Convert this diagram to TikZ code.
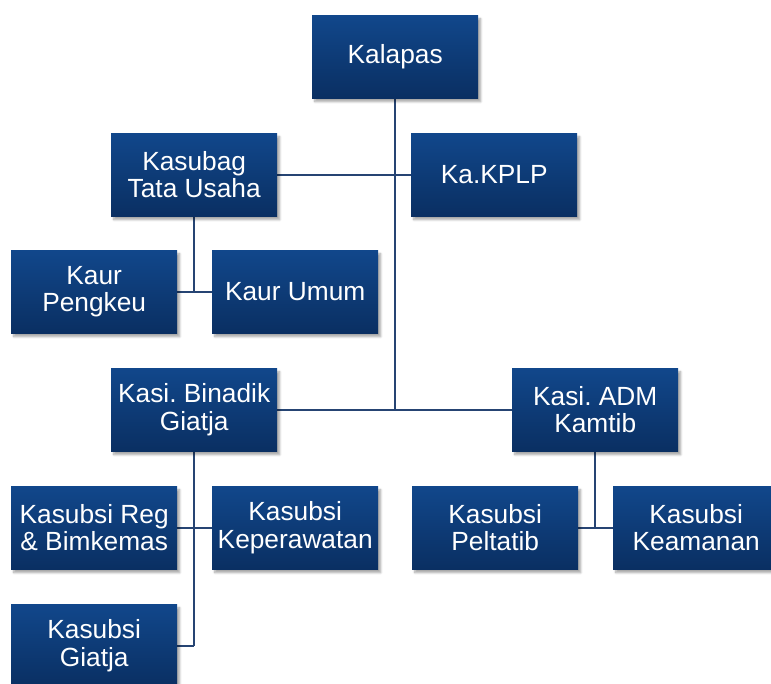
\documentclass[tikz,border=0pt]{standalone}
\usepackage{fontspec}
\setmainfont{Liberation Sans}
\usetikzlibrary{shadows.blur,backgrounds}
\definecolor{boxtop}{RGB}{17,71,139}
\definecolor{boxbot}{RGB}{10,47,98}
\definecolor{linec}{RGB}{38,68,115}
\tikzset{
  orgbox/.style={anchor=north west, minimum width=166pt, minimum height=83pt,
    inner sep=0pt, top color=boxtop, bottom color=boxbot, draw=none,
    text=white, align=center, font=\frenchspacing\fontsize{26.3}{27.5}\selectfont,
    blur shadow={shadow xshift=2.5pt, shadow yshift=-3.5pt, shadow blur steps=6, shadow opacity=35}},
  conn/.style={draw=linec, line width=2pt}
}
\begin{document}
\frenchspacing
\begin{tikzpicture}[x=1pt,y=1pt]
\useasboundingbox (0,0) rectangle (771,-683);
\clip (0,0) rectangle (771,-683);
\node[orgbox] (kalapas) at (312,-15) {Kalapas};
\node[orgbox] (kasubag) at (111,-133) {Kasubag\\Tata Usaha};
\node[orgbox] (kplp) at (411,-133) {Ka.KPLP};
\node[orgbox] (pengkeu) at (11,-250) {Kaur\\Pengkeu};
\node[orgbox] (umum) at (212,-250) {Kaur Umum};
\node[orgbox] (binadik) at (111,-368) {Kasi. Binadik\\Giatja};
\node[orgbox] (adm) at (512,-368) {Kasi. ADM\\Kamtib};
\node[orgbox] (reg) at (11,-486) {Kasubsi Reg\\\& Bimkemas};
\node[orgbox] (kep) at (212,-486) {Kasubsi\\Keperawatan};
\node[orgbox] (giatja) at (11,-604) {Kasubsi\\Giatja};
\node[orgbox] (peltatib) at (412,-486) {Kasubsi\\Peltatib};
\node[orgbox] (keamanan) at (613,-486) {Kasubsi\\Keamanan};
\coordinate (trunkend) at (kalapas.south |- binadik.east);
\coordinate (giatjaend) at (binadik.south |- giatja.east);
\begin{pgfonlayer}{background}
\draw[conn] (kalapas.south) -- (trunkend);
\draw[conn] (kasubag.east) -- (kplp.west);
\draw[conn] (binadik.east) -- (adm.west);
\draw[conn] (kasubag.south) -- (kasubag.south |- pengkeu.east);
\draw[conn] (pengkeu.east) -- (umum.west);
\draw[conn] (binadik.south) -- (giatjaend);
\draw[conn] (reg.east) -- (kep.west);
\draw[conn] (giatja.east) -- (giatjaend);
\draw[conn] (adm.south) -- (adm.south |- peltatib.east);
\draw[conn] (peltatib.east) -- (keamanan.west);
\end{pgfonlayer}
\end{tikzpicture}
\end{document}
